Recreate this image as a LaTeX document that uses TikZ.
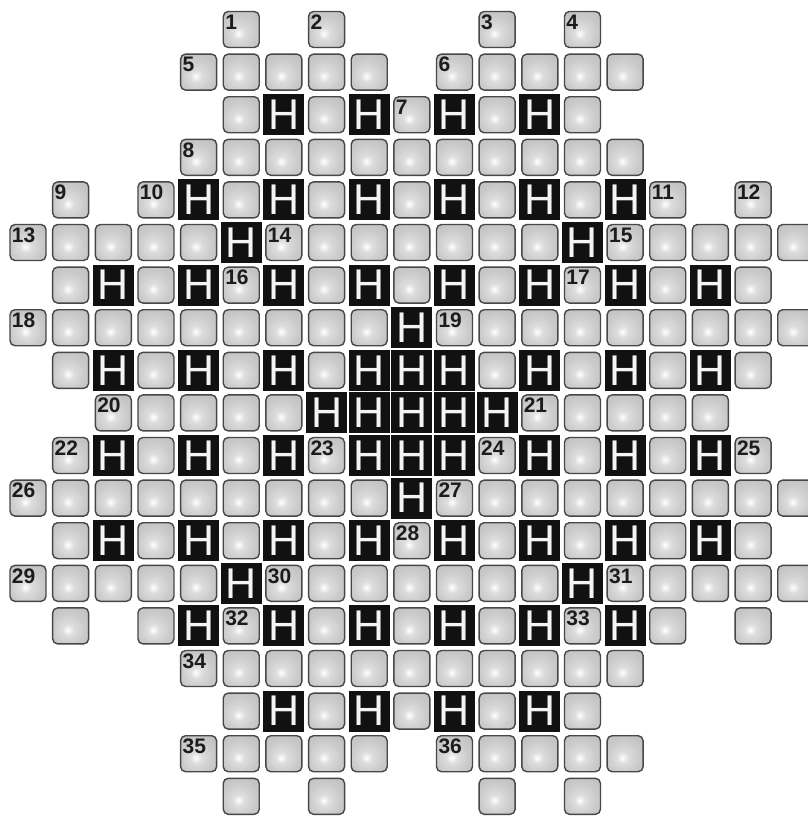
\documentclass[tikz,border=0pt]{standalone}
\usepackage{fontspec}
\setmainfont{Liberation Sans}
\definecolor{cellborder}{HTML}{474747}
\definecolor{hblack}{HTML}{111111}
\definecolor{lblcol}{HTML}{1C1C1C}
\definecolor{hwhite}{HTML}{F4F4F4}
\definecolor{shA}{HTML}{DDDDDD}
\definecolor{shB}{HTML}{CBCBCB}
\definecolor{shC}{HTML}{B6B6B6}
\definecolor{shD}{HTML}{A4A4A4}
\pgfdeclareradialshading{cellshade}{\pgfpoint{-4bp}{-6bp}}{color(0bp)=(white); color(8bp)=(shA); color(22bp)=(shB); color(48bp)=(shC); color(75bp)=(shD)}
\begin{document}
\begin{tikzpicture}[x=1pt,y=-1pt,
  plain/.style={draw=cellborder, line width=1.4pt, rounded corners=5pt, minimum size=36pt, inner sep=0pt, shading=cellshade},
  hcell/.style={fill=hblack, minimum size=41pt, inner sep=0pt, text=hwhite, font=\fontsize{43}{43}\selectfont},
  lbl/.style={anchor=base west, inner sep=0pt, text=lblcol, font=\fontsize{21}{21}\selectfont\bfseries}]
\useasboundingbox (0,0) rectangle (808,819);
\clip (0,0) rectangle (808,819);
% plain cells
\foreach \r/\cl in {
  0/{5,7,11,13},
  1/{4,5,6,7,8,10,11,12,13,14},
  2/{5,7,9,11,13},
  3/{4,5,6,7,8,9,10,11,12,13,14},
  4/{1,3,5,7,9,11,13,15,17},
  5/{0,1,2,3,4,6,7,8,9,10,11,12,14,15,16,17,18},
  6/{1,3,5,7,9,11,13,15,17},
  7/{0,1,2,3,4,5,6,7,8,10,11,12,13,14,15,16,17,18},
  8/{1,3,5,7,11,13,15,17},
  9/{2,3,4,5,6,12,13,14,15,16},
  10/{1,3,5,7,11,13,15,17},
  11/{0,1,2,3,4,5,6,7,8,10,11,12,13,14,15,16,17,18},
  12/{1,3,5,7,9,11,13,15,17},
  13/{0,1,2,3,4,6,7,8,9,10,11,12,14,15,16,17,18},
  14/{1,3,5,7,9,11,13,15,17},
  15/{4,5,6,7,8,9,10,11,12,13,14},
  16/{5,7,9,11,13},
  17/{4,5,6,7,8,10,11,12,13,14},
  18/{5,7,11,13}}{
  \foreach \c in \cl {
    \node[plain] (p\c-\r) at ({28+42.65*\c},{29.5+42.6*\r}) {};
  }
}
% H cells
\foreach \r/\cl in {
  2/{6,8,10,12},
  4/{4,6,8,10,12,14},
  5/{5,13},
  6/{2,4,6,8,10,12,14,16},
  7/{9},
  8/{2,4,6,8,9,10,12,14,16},
  9/{7,8,9,10,11},
  10/{2,4,6,8,9,10,12,14,16},
  11/{9},
  12/{2,4,6,8,10,12,14,16},
  13/{5,13},
  14/{4,6,8,10,12,14},
  16/{6,8,10,12}}{
  \foreach \c in \cl {
    \node[hcell] (h\c-\r) at ({28+42.65*\c},{29.5+42.6*\r}) {H};
  }
}
% labels
\foreach \c/\r/\n in {
  5/0/1, 7/0/2, 11/0/3, 13/0/4,
  4/1/5, 10/1/6,
  9/2/7,
  4/3/8,
  1/4/9, 3/4/10, 15/4/11, 17/4/12,
  0/5/13, 6/5/14, 14/5/15,
  5/6/16, 13/6/17,
  0/7/18, 10/7/19,
  2/9/20, 12/9/21,
  1/10/22, 7/10/23, 11/10/24, 17/10/25,
  0/11/26, 10/11/27,
  9/12/28,
  0/13/29, 6/13/30, 14/13/31,
  5/14/32, 13/14/33,
  4/15/34,
  4/17/35, 10/17/36}{
  \node[lbl] (n\n) at ({28+42.65*\c-16.2},{29.5+42.6*\r-0.2}) {\n};
}
\end{tikzpicture}
\end{document}
